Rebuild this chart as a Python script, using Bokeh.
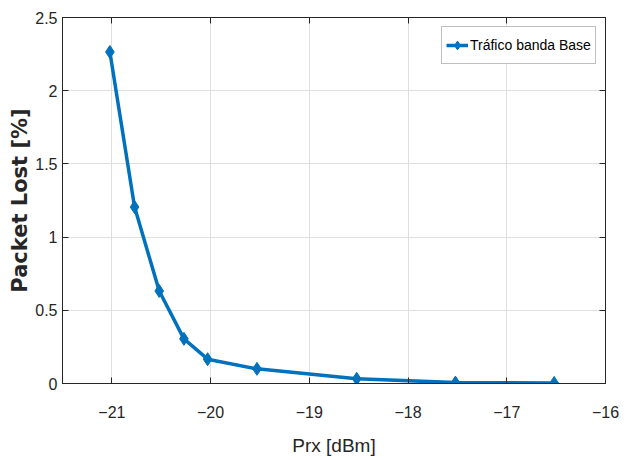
from bokeh.plotting import figure
from bokeh.models import LinearAxis, FixedTicker, Range1d, Legend, LegendItem
from bokeh.embed import file_html
from bokeh.resources import INLINE

prx = [-21.02, -20.77, -20.52, -20.27, -20.03, -19.53, -18.52, -17.52, -16.52]
packet_lost = [2.265, 1.205, 0.632, 0.305, 0.166, 0.100, 0.032, 0.006, 0.004]
series_name = "Tráfico banda Base"
x_ticks = [-21, -20, -19, -18, -17, -16]
y_ticks = [0, 0.5, 1, 1.5, 2, 2.5]
y_tick_labels = ["0", "0.5", "1", "1.5", "2", "2.5"]

BLUE = "#0072BD"
FONT = "Liberation Sans"

p = figure(width=627, height=460, output_backend="svg", toolbar_location=None,
           x_range=Range1d(-21.5, -16), y_range=Range1d(0, 2.5),
           min_border_left=62, min_border_right=22, min_border_top=17, min_border_bottom=77)
p.background_fill_color = "white"
p.border_fill_color = "white"
p.outline_line_color = "#262626"
p.outline_line_width = 1

ln = p.line(prx, packet_lost, line_color=BLUE, line_width=3.5)
sc = p.scatter(prx, packet_lost, marker="diamond", size=13, fill_color=BLUE, line_color=BLUE)

for ax in [p.xaxis[0], p.yaxis[0]]:
    ax.major_tick_in = 6
    ax.major_tick_out = 0
    ax.minor_tick_in = 0
    ax.minor_tick_out = 0
    ax.axis_line_color = "#262626"
    ax.major_tick_line_color = "#262626"
    ax.major_label_text_font = FONT
    ax.major_label_text_font_size = "16px"
    ax.major_label_text_color = "#262626"

p.xaxis[0].ticker = FixedTicker(ticks=x_ticks)
p.yaxis[0].ticker = FixedTicker(ticks=y_ticks)
p.yaxis[0].major_label_overrides = {t: l for t, l in zip(y_ticks, y_tick_labels)}
p.xaxis[0].major_label_standoff = 22
p.yaxis[0].major_label_standoff = 5

p.xaxis[0].axis_label = "Prx [dBm]"
p.xaxis[0].axis_label_text_font = FONT
p.xaxis[0].axis_label_text_font_style = "normal"
p.xaxis[0].axis_label_text_font_size = "19px"
p.xaxis[0].axis_label_text_color = "#262626"
p.xaxis[0].axis_label_standoff = 14

p.yaxis[0].axis_label = "Packet Lost [%]"
p.yaxis[0].axis_label_text_font = "DejaVu Sans"
p.yaxis[0].axis_label_text_font_style = "bold"
p.yaxis[0].axis_label_text_font_size = "21px"
p.yaxis[0].axis_label_text_color = "#262626"
p.yaxis[0].axis_label_standoff = 0

p.xgrid.ticker = FixedTicker(ticks=x_ticks)
p.ygrid.ticker = FixedTicker(ticks=y_ticks)
for g in [p.xgrid[0], p.ygrid[0]]:
    g.grid_line_color = "#DFDFDF"
    g.grid_line_width = 1

top = LinearAxis(ticker=FixedTicker(ticks=x_ticks),
                 major_label_overrides={t: "" for t in x_ticks},
                 major_tick_in=6, major_tick_out=0, minor_tick_in=0, minor_tick_out=0,
                 major_label_standoff=0, axis_line_color="#262626", major_tick_line_color="#262626")
right = LinearAxis(ticker=FixedTicker(ticks=y_ticks),
                   major_label_overrides={t: "" for t in y_ticks},
                   major_tick_in=6, major_tick_out=0, minor_tick_in=0, minor_tick_out=0,
                   major_label_standoff=0, axis_line_color="#262626", major_tick_line_color="#262626")
p.add_layout(top, "above")
p.add_layout(right, "right")

legend = Legend(items=[LegendItem(label=series_name, renderers=[ln, sc])],
                location=(379, 319))
legend.label_text_font = FONT
legend.label_text_font_size = "14px"
legend.label_text_color = "black"
legend.border_line_color = "#7F7F7F"
legend.border_line_width = 1
legend.background_fill_color = "white"
legend.background_fill_alpha = 1
legend.glyph_width = 22
legend.glyph_height = 28
legend.padding = 4
legend.spacing = 0
legend.label_standoff = 2
legend.margin = 0
p.add_layout(legend, "center")

open("out.html", "w").write(file_html(p, INLINE))
